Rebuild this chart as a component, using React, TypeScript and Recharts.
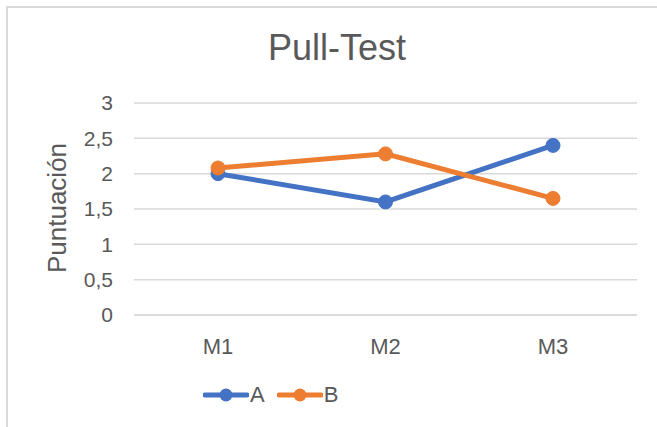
import React from 'react';
import { LineChart, Line, XAxis, YAxis, CartesianGrid, Legend } from 'recharts';

const categories = ['M1', 'M2', 'M3'];
const seriesA = [2.0, 1.6, 2.4];
const seriesB = [2.08, 2.28, 1.65];
const yTicks = [0, 0.5, 1, 1.5, 2, 2.5, 3];

const BLUE = '#4472C4';
const ORANGE = '#ED7D31';
const TEXT = '#595959';
const GRID = '#d9d9d9';
const FONT = '"Liberation Sans", Arial, sans-serif';

const data = categories.map((c, i) => ({ name: c, A: seriesA[i], B: seriesB[i] }));

const fmt = (v: number) => String(v).replace('.', ',');

const LegendContent = ({ payload }: any) => (
  <div style={{ display: 'flex', alignItems: 'center', height: 30, paddingLeft: 129, fontFamily: FONT }}>
    {(payload || []).map((p: any) => (
      <div key={p.value} style={{ display: 'flex', alignItems: 'center', marginRight: 12 }}>
        <svg width={46} height={16}>
          <line x1={2} y1={8} x2={44} y2={8} stroke={p.color} strokeWidth={5} strokeLinecap="round" />
          <circle cx={23} cy={8} r={6.5} fill={p.color} />
        </svg>
        <span style={{ fontSize: 22, color: TEXT, marginLeft: 1 }}>{p.value}</span>
      </div>
    ))}
  </div>
);

export default function App() {
  return (
    <div
      style={{
        position: 'absolute',
        left: 0,
        top: 0,
        width: 657,
        height: 427,
        overflow: 'hidden',
        background: '#fff',
        fontFamily: FONT,
      }}
    >
      {/* chart frame */}
      <div
        style={{
          position: 'absolute',
          left: 6,
          top: 6,
          width: 700,
          height: 460,
          border: `2px solid ${GRID}`,
        }}
      />
      <div
        style={{
          position: 'absolute',
          left: 137,
          width: 400,
          top: 27,
          textAlign: 'center',
          fontSize: 36,
          color: TEXT,
        }}
      >
        Pull-Test
      </div>
      <div
        style={{
          position: 'absolute',
          left: 57,
          top: 208,
          transform: 'translate(-50%, -50%) rotate(-90deg)',
          fontSize: 26,
          color: TEXT,
          whiteSpace: 'nowrap',
        }}
      >
        Puntuación
      </div>
      <div style={{ position: 'absolute', left: 0, top: 0 }}>
        <LineChart width={657} height={427} data={data} margin={{ top: 103, right: 20, bottom: 17, left: 74 }}>
          <CartesianGrid horizontal vertical={false} stroke={GRID} strokeWidth={1.5} />
          <XAxis
            dataKey="name"
            height={65}
            padding={{ left: 84, right: 84 }}
            tickLine={false}
            tickSize={0}
            tickMargin={23}
            axisLine={{ stroke: GRID, strokeWidth: 1.5 }}
            tick={{ fontSize: 22, fill: TEXT, fontFamily: FONT }}
          />
          <YAxis
            width={60}
            domain={[0, 3]}
            ticks={yTicks}
            tickFormatter={fmt}
            axisLine={false}
            tickLine={false}
            tickSize={0}
            tickMargin={21}
            tick={{ fontSize: 21, fill: TEXT, fontFamily: FONT }}
          />
          <Legend verticalAlign="bottom" content={<LegendContent />} />
          <Line
            dataKey="A"
            name="A"
            stroke={BLUE}
            strokeWidth={5}
            dot={{ r: 7, fill: BLUE, stroke: BLUE, strokeWidth: 1 }}
            activeDot={false}
            isAnimationActive={false}
          />
          <Line
            dataKey="B"
            name="B"
            stroke={ORANGE}
            strokeWidth={5}
            dot={{ r: 7, fill: ORANGE, stroke: ORANGE, strokeWidth: 1 }}
            activeDot={false}
            isAnimationActive={false}
          />
        </LineChart>
      </div>
    </div>
  );
}
